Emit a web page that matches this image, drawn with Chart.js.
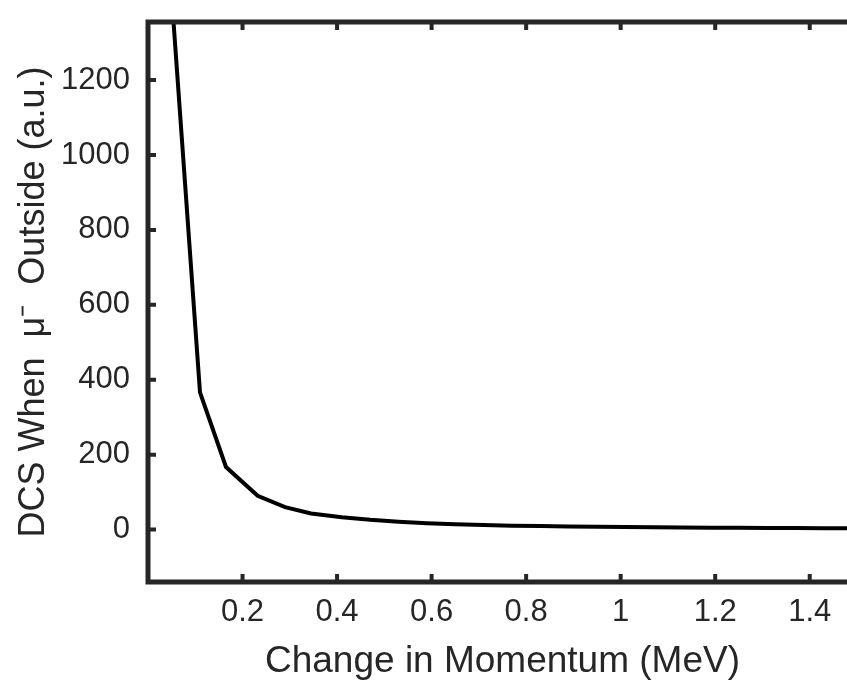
<!DOCTYPE html>
<html>
<head>
<meta charset="utf-8">
<script src="https://cdn.jsdelivr.net/npm/chart.js@4"></script>
<style>
  html, body { margin: 0; padding: 0; background: #fff; overflow: hidden; }
  body { width: 847px; height: 680px; }
  #wrap { width: 870px; height: 680px; }
</style>
</head>
<body>
<div id="wrap"><canvas id="c" width="870" height="680"></canvas></div>
<script>
// momentum change (MeV) vs DCS
const momentum = [0.05, 0.11, 0.165, 0.232, 0.29, 0.345, 0.41, 0.47, 0.53, 0.59, 0.65,
  0.71, 0.77, 0.83, 0.89, 0.95, 1.01, 1.07, 1.13, 1.19, 1.25, 1.31, 1.37, 1.43, 1.49, 1.55];
const dcs = [1425, 366, 167, 90, 60, 43, 33, 26, 21, 17, 14,
  12, 10.5, 9.3, 8.3, 7.4, 6.6, 6.0, 5.4, 5.0, 4.6, 4.2, 3.9, 3.6, 3.4, 3.2];
const xTicks = [0.2, 0.4, 0.6, 0.8, 1, 1.2, 1.4];
const yTicks = [0, 200, 400, 600, 800, 1000, 1200];

const INK = '#262626';
const FONT = "'Liberation Sans', Arial, sans-serif";

// box + inward ticks, matlab style
const boxAxes = {
  id: 'boxAxes',
  afterDatasetsDraw(chart) {
    const { ctx, chartArea: a, scales: { x, y } } = chart;
    const len = 6;
    ctx.save();
    ctx.strokeStyle = INK;
    ctx.lineWidth = 4;
    xTicks.forEach(v => {
      const px = x.getPixelForValue(v);
      ctx.beginPath();
      ctx.moveTo(px, a.bottom); ctx.lineTo(px, a.bottom - len - 2);
      ctx.moveTo(px, a.top); ctx.lineTo(px, a.top + len + 2);
      ctx.stroke();
    });
    yTicks.forEach(v => {
      const py = y.getPixelForValue(v);
      ctx.beginPath();
      ctx.moveTo(a.left, py); ctx.lineTo(a.left + len + 2, py);
      ctx.moveTo(a.right, py); ctx.lineTo(a.right - len - 2, py);
      ctx.stroke();
    });
    ctx.lineWidth = 5;
    ctx.strokeRect(a.left, a.top, a.right - a.left, a.bottom - a.top);
    ctx.restore();
  }
};

// fixed box sizes, no label overflow padding
function fitX(s) { s.height = 98; s.paddingLeft = 0; s.paddingRight = 0; }
function fitY(s) { s.width = 148; s.paddingTop = 0; s.paddingBottom = 0; }

new Chart(document.getElementById('c'), {
  type: 'line',
  data: {
    datasets: [{
      data: momentum.map((m, i) => ({ x: m, y: dcs[i] })),
      borderColor: '#000',
      borderWidth: 4,
      pointRadius: 0,
      tension: 0,
      fill: false,
    }]
  },
  options: {
    responsive: false,
    animation: false,
    events: [],
    layout: { padding: { top: 22, right: 13, left: 0, bottom: 0 } },
    plugins: { legend: { display: false }, tooltip: { enabled: false } },
    scales: {
      x: {
        type: 'linear',
        min: 0, max: 1.5,
        afterFit: fitX,
        afterBuildTicks: s => { s.ticks = xTicks.map(v => ({ value: v })); },
        grid: { display: false, drawTicks: false },
        border: { display: false },
        ticks: {
          color: INK, padding: 12, maxRotation: 0,
          font: { family: FONT, size: 31 },
          callback: v => String(v),
        },
        title: {
          display: true, text: 'Change in Momentum (MeV)', color: INK,
          font: { family: FONT, size: 37, lineHeight: 1 }, padding: { top: 0, bottom: 0 },
        },
      },
      y: {
        type: 'linear',
        min: -140, max: 1355,
        afterFit: fitY,
        afterBuildTicks: s => { s.ticks = yTicks.map(v => ({ value: v })); },
        grid: { display: false, drawTicks: false },
        border: { display: false },
        ticks: {
          color: INK, padding: 18,
          font: { family: FONT, size: 31 },
          callback: v => String(v),
        },
        title: {
          display: true, text: 'DCS When  μ⁻  Outside (a.u.)', color: INK,
          font: { family: FONT, size: 36 }, padding: { top: 12, bottom: 0 },
        },
      },
    },
  },
  plugins: [boxAxes],
});
</script>
</body>
</html>
